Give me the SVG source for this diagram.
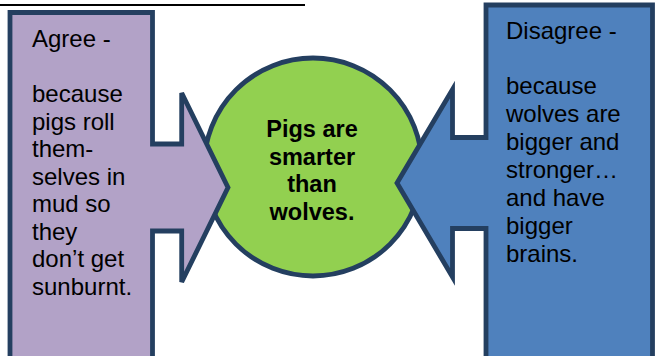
<svg xmlns="http://www.w3.org/2000/svg" width="661" height="356" viewBox="0 0 661 356">
  <style>
    .shape { stroke: #243F60; stroke-width: 4.8; stroke-linejoin: miter; }
    .txt { font-family: "Liberation Sans", Arial, sans-serif; font-size: 24px; fill: #000000; }
    .ctr { font-family: "Liberation Sans", Arial, sans-serif; font-size: 23.5px; font-weight: bold; fill: #000000; text-anchor: middle; }
  </style>
  <rect width="661" height="356" fill="#FFFFFF"/>
  <line x1="0" y1="5" x2="305" y2="5" stroke="#000000" stroke-width="2"/>
  <g id="center">
    <circle class="shape" cx="313" cy="167" r="109" fill="#92D050"/>
    <text class="ctr" x="312" y="137">Pigs are</text>
    <text class="ctr" x="312" y="164.5">smarter</text>
    <text class="ctr" x="312" y="192">than</text>
    <text class="ctr" x="312" y="219.5">wolves.</text>
  </g>
  <g id="agree">
    <path class="shape" fill="#B2A2C7" d="M10,362 L10,12.5 L152.5,12.5 L152.5,144 L181.7,144 L181.7,93 L228,187.5 L181.7,282 L181.7,231 L152.5,231 L152.5,362 Z"/>
    <text class="txt" x="32" y="47">Agree -</text>
    <text class="txt" x="32" y="102">because</text>
    <text class="txt" x="32" y="129.5">pigs roll</text>
    <text class="txt" x="32" y="157">them-</text>
    <text class="txt" x="32" y="184.5">selves in</text>
    <text class="txt" x="32" y="212">mud so</text>
    <text class="txt" x="32" y="239.5">they</text>
    <text class="txt" x="32" y="267">don’t get</text>
    <text class="txt" x="32" y="294.5">sunburnt.</text>
  </g>
  <g id="disagree">
    <path class="shape" fill="#4F81BD" d="M486,362 L486,5 L652.5,5 L652.5,362 Z"/>
    <path class="shape" fill="#4F81BD" d="M486,137.5 L452.5,137.5 L452.5,89.5 L397,183 L452.5,277 L452.5,228.5 L486,228.5"/>
    <rect x="483" y="140" width="8" height="86" fill="#4F81BD"/>
    <text class="txt" x="506" y="39">Disagree -</text>
    <text class="txt" x="506" y="94">because</text>
    <text class="txt" x="506" y="122">wolves are</text>
    <text class="txt" x="506" y="150">bigger and</text>
    <text class="txt" x="506" y="178">stronger…</text>
    <text class="txt" x="506" y="206">and have</text>
    <text class="txt" x="506" y="234">bigger</text>
    <text class="txt" x="506" y="262">brains.</text>
  </g>
  <g id="connectors"/>
</svg>
